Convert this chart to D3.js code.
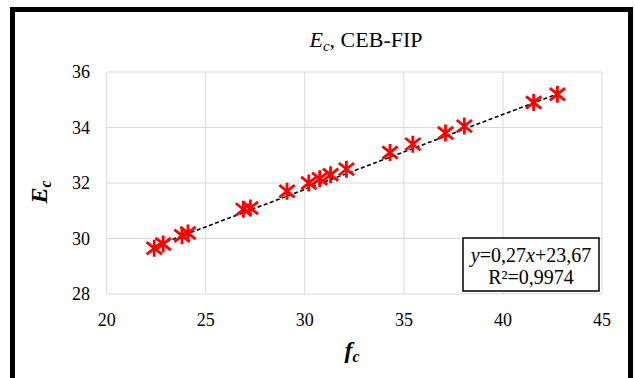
<!DOCTYPE html>
<html lang="en">
<head>
<meta charset="utf-8">
<title>Ec, CEB-FIP</title>
<script src="https://cdnjs.cloudflare.com/ajax/libs/d3/7.8.5/d3.min.js"></script>
<style>
	body { margin: 0; background: #fff; }
	svg text { font-family: "Liberation Serif", "Times New Roman", serif; fill: #000; }
	.grid line { stroke: #d9d9d9; stroke-width: 1; }
</style>
</head>
<body>
<div id="chart"></div>
<script>
// data
var fc = [22.4, 22.85, 23.8, 24.1, 26.9, 27.25, 29.1, 30.2, 30.75, 31.3, 32.1, 34.3, 35.45, 37.1, 38.05, 41.55, 42.75];
var ec = [29.65, 29.8, 30.1, 30.2, 31.05, 31.1, 31.7, 32.0, 32.15, 32.3, 32.5, 33.1, 33.4, 33.8, 34.05, 34.9, 35.2];
var xTicks = [20, 25, 30, 35, 40, 45];
var yTicks = [28, 30, 32, 34, 36];
var slope = 0.27, intercept = 23.67;
var eqText = "0,27", eqText2 = "+23,67", r2Text = "R²=0,9974";

var width = 635, height = 378;

var svg = d3.select("#chart").append("svg")
	.attr("width", width)
	.attr("height", height);

var x = d3.scaleLinear().domain([20, 45]).range([106.7, 602]);
var y = d3.scaleLinear().domain([28, 36]).range([294, 72]);

// outer frame
svg.append("rect")
	.attr("x", 12.5).attr("y", 9.5)
	.attr("width", 618).attr("height", 420)
	.attr("fill", "none")
	.attr("stroke", "#000")
	.attr("stroke-width", 5);

// gridlines
var grid = svg.append("g").attr("class", "grid");
grid.selectAll(".vx").data(xTicks).enter().append("line")
	.attr("x1", function(d) { return x(d); })
	.attr("x2", function(d) { return x(d); })
	.attr("y1", y(28)).attr("y2", y(36));
grid.selectAll(".hy").data(yTicks).enter().append("line")
	.attr("x1", x(20)).attr("x2", x(45))
	.attr("y1", function(d) { return y(d); })
	.attr("y2", function(d) { return y(d); });

// tick labels
svg.selectAll(".ylab").data(yTicks).enter().append("text")
	.attr("x", 90)
	.attr("y", function(d) { return y(d); })
	.attr("dy", "0.35em")
	.attr("text-anchor", "end")
	.style("font-size", "18px")
	.text(function(d) { return d; });

svg.selectAll(".xlab").data(xTicks).enter().append("text")
	.attr("x", function(d) { return x(d); })
	.attr("y", 320)
	.attr("dy", "0.35em")
	.attr("text-anchor", "middle")
	.style("font-size", "18px")
	.text(function(d) { return d; });

// trend line
var x0 = d3.min(fc), x1 = d3.max(fc);
svg.append("line")
	.attr("x1", x(x0)).attr("y1", y(slope * x0 + intercept))
	.attr("x2", x(x1)).attr("y2", y(slope * x1 + intercept))
	.attr("stroke", "#000")
	.attr("stroke-width", 1.6)
	.attr("stroke-dasharray", "4,2.5");

// star markers
var pts = fc.map(function(d, i) { return [d, ec[i]]; });
var s = 8.5, k = 0.9;
svg.selectAll(".pt").data(pts).enter().append("path")
	.attr("transform", function(d) { return "translate(" + x(d[0]) + "," + y(d[1]) + ")"; })
	.attr("d", "M0," + (-s) + "V" + s +
		"M" + (-s * k) + "," + (-s * k * 0.8) + "L" + (s * k) + "," + (s * k * 0.8) +
		"M" + (s * k) + "," + (-s * k * 0.8) + "L" + (-s * k) + "," + (s * k * 0.8))
	.attr("fill", "none")
	.attr("stroke", "#ff0000")
	.attr("stroke-width", 2.8);

// title
var title = svg.append("text")
	.attr("x", 366).attr("y", 47)
	.attr("text-anchor", "middle")
	.style("font-size", "22px");
title.append("tspan").style("font-style", "italic").text("E");
title.append("tspan").style("font-style", "italic").style("font-size", "15px").attr("dy", 4).text("c");
title.append("tspan").attr("dy", -4).text(", CEB-FIP");

// axis titles
var xt = svg.append("text")
	.attr("x", 352).attr("y", 358)
	.attr("text-anchor", "middle")
	.style("font-size", "24px")
	.style("font-weight", "bold")
	.style("font-style", "italic");
xt.append("tspan").text("f");
xt.append("tspan").style("font-size", "16px").attr("dy", 4).text("c");

var yt = svg.append("text")
	.attr("transform", "translate(47,192) rotate(-90)")
	.attr("text-anchor", "middle")
	.style("font-size", "24px")
	.style("font-weight", "bold")
	.style("font-style", "italic");
yt.append("tspan").text("E");
yt.append("tspan").style("font-size", "16px").attr("dy", 4).text("c");

// equation box
svg.append("rect")
	.attr("x", 463).attr("y", 238)
	.attr("width", 136).attr("height", 53)
	.attr("fill", "#fff")
	.attr("stroke", "#000")
	.attr("stroke-width", 1.5);

var eq = svg.append("text")
	.attr("x", 531).attr("y", 262)
	.attr("text-anchor", "middle")
	.style("font-size", "20px");
eq.append("tspan").style("font-style", "italic").text("y");
eq.append("tspan").text("=" + eqText);
eq.append("tspan").style("font-style", "italic").text("x");
eq.append("tspan").text(eqText2);

svg.append("text")
	.attr("x", 531).attr("y", 284)
	.attr("text-anchor", "middle")
	.style("font-size", "20px")
	.text(r2Text);
</script>
</body>
</html>
